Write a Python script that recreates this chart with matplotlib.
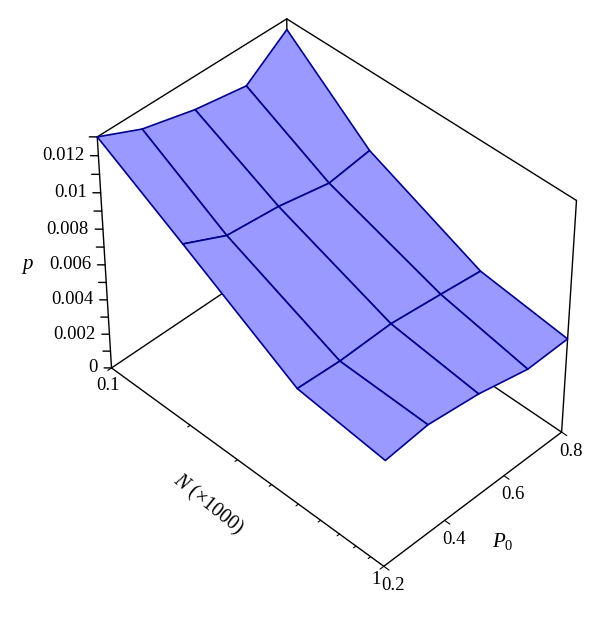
import numpy as np
import matplotlib
matplotlib.use("Agg")
import matplotlib.pyplot as plt
from mpl_toolkits.mplot3d import proj3d

# N is on a log axis, P0 and p are linear
N_VALUES = [0.1, 0.2, 0.5, 1.0]
P0_VALUES = [0.2, 0.335, 0.5, 0.665, 0.8]

# one row per N, one column per P0
P_AT_N01 = [0.0130, 0.01196, 0.01124, 0.01078, 0.01243]
P_AT_N02 = [0.01031, 0.00922, 0.00894, 0.00838, 0.0087]
P_AT_N05 = [0.00668, 0.00654, 0.00662, 0.0063, 0.00602]
P_AT_N10 = [0.00613, 0.00639, 0.00603, 0.00537, 0.00543]

P_TICKS = [0, 0.002, 0.004, 0.006, 0.008, 0.01, 0.012]
P_TICK_LABELS = ["0", "0.002", "0.004", "0.006", "0.008", "0.01", "0.012"]
P_MINOR = [0.001, 0.003, 0.005, 0.007, 0.009, 0.011, 0.013]
N_MINOR = [0.2, 0.3, 0.4, 0.5, 0.6, 0.7, 0.8, 0.9]
P0_TICKS = [0.2, 0.4, 0.6, 0.8]
P0_TICK_LABELS = ["0.2", "0.4", "0.6", "0.8"]

ZMAX = 0.013
LINE = "black"
FILL = "#9999FF"
EDGE = "#00008C"

plt.rcParams["font.family"] = ["Liberation Serif", "DejaVu Serif"]
plt.rcParams["mathtext.fontset"] = "custom"
plt.rcParams["mathtext.rm"] = "Liberation Serif"
plt.rcParams["mathtext.it"] = "Liberation Serif:italic"

fig = plt.figure(figsize=(6.0, 6.22), dpi=100)
ax = fig.add_axes([0.0130, -0.0063, 1.06, 1.06], projection="3d", computed_zorder=False)
ax.set_proj_type("persp", focal_length=1.0)
ax.view_init(elev=43, azim=-45.2)
ax.set_box_aspect((381, 251, 304.5), zoom=0.869)
ax.set_axis_off()
ax.set_xlim(-1, 0, view_margin=0)
ax.set_ylim(0.2, 0.8, view_margin=0)
ax.set_zlim(0, ZMAX, view_margin=0)

# surface
X, Y = np.meshgrid(np.log10(N_VALUES), P0_VALUES, indexing="ij")
Z = np.array([P_AT_N01, P_AT_N02, P_AT_N05, P_AT_N10])
ax.plot_surface(X, Y, Z, rstride=1, cstride=1, color=FILL, edgecolor=EDGE,
                linewidth=1.2, shade=False, antialiased=True, zorder=2)


def seg(xs, ys, zs, lw=1.0):
    ax.plot(xs, ys, zs, color=LINE, lw=lw, solid_capstyle="round", zorder=1)


# box edges
seg([-1, 0], [0.2, 0.2], [0, 0])
seg([0, 0], [0.2, 0.8], [0, 0])
seg([-1, -1], [0.2, 0.8], [0, 0])
seg([-1, 0], [0.8, 0.8], [0, 0])
seg([-1, -1], [0.2, 0.2], [0, ZMAX])
seg([-1, -1], [0.8, 0.8], [0, ZMAX])
seg([0, 0], [0.8, 0.8], [0, ZMAX])
seg([-1, -1], [0.2, 0.8], [ZMAX, ZMAX])
seg([-1, 0], [0.8, 0.8], [ZMAX, ZMAX])

# p ticks
for p in P_TICKS + P_MINOR:
    seg([-1, -1.014], [0.2, 0.1875], [p, p])
# N ticks
for n in [0.1] + N_MINOR + [1.0]:
    d = 0.008 if n not in (0.1, 1.0) else 0.012
    seg([np.log10(n)] * 2, [0.2, 0.2 - d], [0, 0], lw=0.8)
# P0 ticks
for p0 in P0_TICKS:
    d = 0.018
    seg([0, d], [p0, p0], [0, 0], lw=0.8)


def label(text, x, y, z, dx, dy, **kw):
    # place text a few pixels from a projected 3D point
    u, v, _ = proj3d.proj_transform(x, y, z, ax.get_proj())
    ax.annotate(text, (u, v), xytext=(dx, dy), textcoords="offset pixels",
                annotation_clip=False, **kw)


for p, s in zip(P_TICKS, P_TICK_LABELS):
    label(s, -1, 0.2, p, -14, 0, ha="right", va="center", fontsize=13.5)
label("0.1", -1, 0.2, 0, -4, -18, ha="center", va="center", fontsize=13.5)
label("1", 0, 0.2, 0, -8, -13, ha="center", va="center", fontsize=13.5)
for p0, s in zip(P0_TICKS, P0_TICK_LABELS):
    label(s, 0, p0, 0, 9, -19, ha="center", va="center", fontsize=13.5)

fig.text(28 / 600, 1 - 267 / 622, "$p$", fontsize=15, ha="center", va="center")
fig.text(208 / 600, 1 - 505 / 622, "$N$ (×1000)", fontsize=14.5, rotation=-39,
         rotation_mode="anchor", ha="center", va="center")
fig.text(503 / 600, 1 - 541 / 622, "$P_0$", fontsize=15, ha="center", va="center")

fig.savefig("out.png", dpi=100)
